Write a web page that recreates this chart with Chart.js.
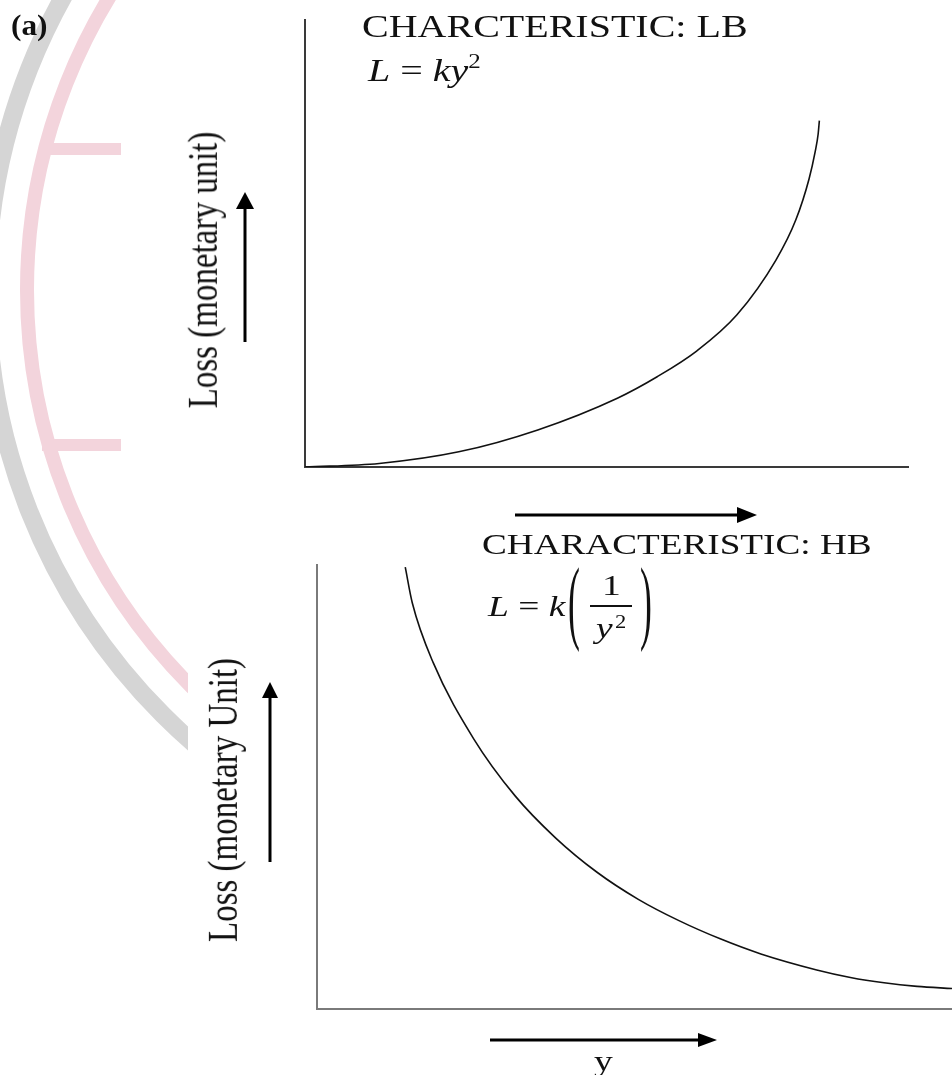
<!DOCTYPE html>
<html>
<head>
<meta charset="utf-8">
<script src="https://cdn.jsdelivr.net/npm/chart.js@4.4.1/dist/chart.umd.min.js"></script>
<style>
  html, body { margin: 0; padding: 0; background: #fff; }
  #page { position: relative; width: 952px; height: 1075px; overflow: hidden;
          font-family: "Liberation Serif", "Times New Roman", serif; color: #111; }
  #page canvas { position: absolute; left: 0; }
  #deco { position: absolute; left: 0; top: 0; }
  .t { position: absolute; white-space: nowrap; line-height: 1; transform-origin: 0 0; }
  .rot { transform-origin: 50% 50%; }
  .bar { position: absolute; background: #111; }
</style>
</head>
<body>
<div id="page">
  <svg id="deco" width="952" height="1075">
    <defs>
      <clipPath id="wm"><rect x="0" y="0" width="188" height="1075"/></clipPath>
    </defs>
    <g clip-path="url(#wm)" fill="none">
      <circle cx="588" cy="290" r="601" stroke="#d5d5d5" stroke-width="18"/>
      <circle cx="588" cy="290" r="561" stroke="#f3d4dc" stroke-width="14"/>
    </g>
    <rect x="42" y="143" width="79" height="12" fill="#f3d4dc"/>
    <rect x="42" y="439" width="79" height="12" fill="#f3d4dc"/>
    <g stroke="#000" stroke-width="3" fill="#000">
      <line x1="245" y1="342" x2="245" y2="206"/>
      <polygon points="236,209 254,209 245,192" stroke="none"/>
      <line x1="515" y1="515" x2="740" y2="515"/>
      <polygon points="737,507 737,523 757,515" stroke="none"/>
      <line x1="270" y1="862" x2="270" y2="695"/>
      <polygon points="262,698 278,698 270,682" stroke="none"/>
      <line x1="490" y1="1040" x2="700" y2="1040"/>
      <polygon points="698,1033 698,1047 717,1040" stroke="none"/>
    </g>
  </svg>

  <canvas id="lb" width="952" height="500" style="top:0"></canvas>
  <canvas id="hb" width="952" height="535" style="top:540px"></canvas>

  <div class="t" style="left:11px;top:11px;font-size:29px;font-weight:bold;transform:scaleX(1.08)">(a)</div>
  <div class="t" style="left:362px;top:10px;font-size:32px;transform:scaleX(1.25)">CHARCTERISTIC: LB</div>
  <div class="t" style="left:368px;top:54px;font-size:32px;transform:scaleX(1.25)"><i>L</i> = <i>ky</i><span style="font-size:20px;position:relative;top:-13px">2</span></div>

  <div class="t" style="left:482px;top:529px;font-size:30px;transform:scaleX(1.24)">CHARACTERISTIC: HB</div>
  <div class="t" style="left:488px;top:591px;font-size:30px;transform:scaleX(1.25)"><i>L</i> = <i>k</i></div>
  <div class="t" style="left:568px;top:553px;font-size:94px;transform:scaleX(0.38)">(</div>
  <div class="t" style="left:602px;top:570px;font-size:30px;transform:scaleX(1.25)">1</div>
  <div class="bar" style="left:590px;top:605px;width:42px;height:1.5px"></div>
  <div class="t" style="left:596px;top:613px;font-size:30px;transform:scaleX(1.25)"><i>y</i></div>
  <div class="t" style="left:615px;top:613px;font-size:18px;transform:scaleX(1.25)">2</div>
  <div class="t" style="left:640px;top:553px;font-size:94px;transform:scaleX(0.38)">)</div>

  <div class="t rot" style="left:204px;top:270px;font-size:33px;transform:translate(-50%,-50%) rotate(-90deg) scaleY(1.25)">Loss (monetary unit)</div>
  <div class="t rot" style="left:224px;top:800px;font-size:33px;transform:translate(-50%,-50%) rotate(-90deg) scaleY(1.25)">Loss (monetary Unit)</div>
  <div class="t" style="left:594px;top:1046px;font-size:30px;transform:scaleX(1.25)">y</div>
</div>

<script>
// LB characteristic: L = k y^2 (axis 0-100 both ways)
const lbY = [0, 12.3, 25.5, 38.6, 51.8, 58.4, 65.0, 71.6, 78.1, 81.4, 83.6, 84.6, 85.1, 85.3];
const lbLoss = [0, 0.8, 3.4, 8.3, 15.4, 20.2, 26.0, 34.0, 46.3, 55.3, 64.5, 70.5, 74.5, 77.5];

// HB characteristic: L = k (1 / y^2)
const hbY = [13.9, 15.0, 18.3, 24.7, 31.2, 37.6, 44.1, 50.6, 57.0, 63.5, 69.9, 78.7, 84.0, 89.3, 94.5, 100];
const hbLoss = [99.5, 91.5, 78.0, 60.8, 48.0, 38.5, 30.8, 24.7, 19.9, 15.8, 12.4, 8.8, 7.1, 5.9, 5.1, 4.6];

const makeChart = (id, xs, ys, pad, axisColor) => {
  const ctx = document.getElementById(id);
  const points = xs.map((x, i) => ({ x: x, y: ys[i] }));
  const axis = (pos) => ({
    type: "linear",
    position: pos,
    min: 0,
    max: 100,
    grid: { display: false },
    ticks: { display: false },
    border: { display: true, color: axisColor, width: 2 },
    afterFit: (scale) => {
      if (pos === "left") scale.width = 0;
      else scale.height = 0;
    },
  });
  return new Chart(ctx, {
    type: "line",
    data: {
      datasets: [{
        data: points,
        borderColor: "#111",
        borderWidth: 1.6,
        pointRadius: 0,
        fill: false,
        cubicInterpolationMode: "monotone",
      }],
    },
    options: {
      responsive: false,
      animation: false,
      layout: { padding: pad },
      plugins: { legend: { display: false }, tooltip: { enabled: false } },
      scales: { x: axis("bottom"), y: axis("left") },
    },
  });
};

makeChart("lb", lbY, lbLoss, { left: 305, right: 44, top: 20, bottom: 33 }, "#3a3a3a");
makeChart("hb", hbY, hbLoss, { left: 317, right: 0, top: 25, bottom: 66 }, "#7a7a7a");
</script>
</body>
</html>
